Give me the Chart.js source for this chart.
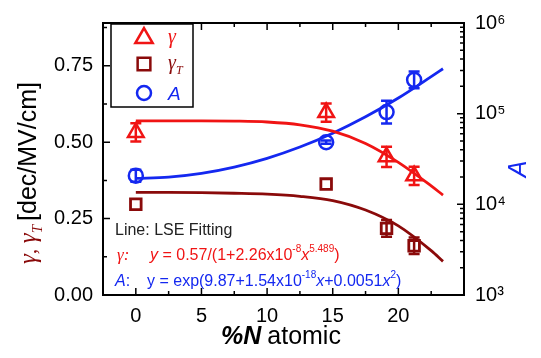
<!DOCTYPE html>
<html>
<head>
<meta charset="utf-8">
<script src="https://cdn.jsdelivr.net/npm/chart.js@4.4.1/dist/chart.umd.min.js"></script>
<style>
html,body{margin:0;padding:0;background:#fff;}
canvas{display:block;}
</style>
</head>
<body>
<canvas id="plot" width="541" height="358"></canvas>
<script>
/* measured points */
var nitrogen = [0, 14.5, 19.1, 21.2]
var gamma = [0.532, 0.597, 0.452, 0.390]
var gammaErr = [0.03, 0.03, 0.033, 0.03]
var gammaT = [0.297, 0.363, 0.218, 0.161]
var gammaTErr = [0, 0, 0.027, 0.027]
var aVals = [20700, 48400, 104000, 236000]
var aLow = [17800, 46500, 77700, 191000]
var aHigh = [24000, 50500, 139000, 291000]

/* LSE fitting lines */
var fitX = [0, 2.5, 5, 7.5, 10, 12.5, 15, 17.5, 20, 22.5, 23.4]
var gammaFit = [0.570, 0.570, 0.570, 0.569, 0.566, 0.557, 0.536, 0.496, 0.434, 0.357, 0.327]
var gammaTFit = [0.336, 0.336, 0.335, 0.333, 0.330, 0.323, 0.309, 0.278, 0.226, 0.145, 0.110]
var aFit = [19300, 20000, 22000, 25800, 32200, 42900, 60900, 92300, 148800, 256000, 313000]

/* axes */
var xTicks = [0, 5, 10, 15, 20]
var yTicks = [0, 0.25, 0.5, 0.75]
var aTicks = [1e3, 1e4, 1e5, 1e6]
var aTickLabels = {1000:'10³', 10000:'10⁴', 100000:'10⁵', 1000000:'10⁶'}

var RED = '#f01414'
var DARK = '#8a0a0a'
var BLUE = '#1428f0'
var SANS = '"Liberation Sans", Arial, sans-serif'
var SERIF = '"Liberation Serif", "Times New Roman", serif'

function pts(xs, ys){
    return xs.map(function(v, i){ return {x:v, y:ys[i]} })
}

function marker(ctx, style, x, y, r, color){
    ctx.beginPath()
    if(style == 'triangle'){
        for(var k = 0; k < 3; k++){
            var ang = k*2*Math.PI/3
            ctx.lineTo(x + Math.sin(ang)*r, y - Math.cos(ang)*r)
        }
        ctx.closePath()
    }else if(style == 'rect'){
        var s = r*Math.SQRT1_2
        ctx.rect(x - s, y - s, 2*s, 2*s)
    }else{
        ctx.arc(x, y, r, 0, Math.PI*2)
    }
    ctx.lineWidth = 2.5
    ctx.strokeStyle = color
    ctx.stroke()
}

function errBar(ctx, px, lo, hi, color){
    if(Math.abs(lo - hi) < 2) return
    ctx.strokeStyle = color
    ctx.lineWidth = 2.5
    ctx.beginPath()
    ctx.moveTo(px, lo); ctx.lineTo(px, hi)
    ctx.moveTo(px - 5.5, lo); ctx.lineTo(px + 5.5, lo)
    ctx.moveTo(px - 5.5, hi); ctx.lineTo(px + 5.5, hi)
    ctx.stroke()
}

// draws text pieces one after another (super/subscripts, mixed fonts)
function rich(ctx, x, y, parts){
    ctx.textAlign = 'left'
    ctx.textBaseline = 'alphabetic'
    parts.forEach(function(p){
        ctx.font = p.f
        ctx.fillStyle = p.c
        ctx.fillText(p.t, x, y + (p.dy || 0))
        x += ctx.measureText(p.t).width + (p.gap || 0)
    })
    return x
}

var extras = {
    id:'extras',
    afterDatasetsDraw:function(chart){
        var ctx = chart.ctx
        var sx = chart.scales.x, sy = chart.scales.y, sa = chart.scales.a
        ctx.save()
        for(var i = 0; i < nitrogen.length; i++){
            var px = sx.getPixelForValue(nitrogen[i])
            errBar(ctx, px, sy.getPixelForValue(gamma[i] - gammaErr[i]), sy.getPixelForValue(gamma[i] + gammaErr[i]), RED)
            errBar(ctx, px, sy.getPixelForValue(gammaT[i] - gammaTErr[i]), sy.getPixelForValue(gammaT[i] + gammaTErr[i]), DARK)
            errBar(ctx, px, sa.getPixelForValue(aLow[i]), sa.getPixelForValue(aHigh[i]), BLUE)
        }
        ctx.restore()
    },
    afterDraw:function(chart){
        var ctx = chart.ctx, area = chart.chartArea
        var sx = chart.scales.x, sy = chart.scales.y, sa = chart.scales.a
        ctx.save()

        // frame
        ctx.strokeStyle = '#000'
        ctx.lineWidth = 2
        ctx.strokeRect(area.left, area.top, area.right - area.left, area.bottom - area.top)

        // inward ticks
        ctx.lineWidth = 1.5
        ctx.beginPath()
        for(var v = 0; v <= 22.5; v += 2.5){
            var p = sx.getPixelForValue(v)
            var len = (v % 5 == 0) ? 7 : 4
            ctx.moveTo(p, area.bottom); ctx.lineTo(p, area.bottom - len)
            ctx.moveTo(p, area.top); ctx.lineTo(p, area.top + len)
        }
        for(var w = 0.125; w < 0.9; w += 0.125){
            var q = sy.getPixelForValue(w)
            var l2 = (Math.round(w*8) % 2 == 0) ? 7 : 4
            ctx.moveTo(area.left, q); ctx.lineTo(area.left + l2, q)
        }
        for(var dec = 1e3; dec < 1e6; dec *= 10){
            for(var m = 1; m < 10; m++){
                var r = sa.getPixelForValue(dec*m)
                var l3 = (m == 1) ? 7 : 4
                ctx.moveTo(area.right, r); ctx.lineTo(area.right - l3, r)
            }
        }
        ctx.stroke()

        // legend box
        ctx.fillStyle = '#fff'
        ctx.fillRect(111, 24, 82, 83)
        ctx.lineWidth = 1.5
        ctx.strokeStyle = '#000'
        ctx.strokeRect(111, 24, 82, 83)
        marker(ctx, 'triangle', 144, 38, 10, RED)
        marker(ctx, 'rect', 144, 64, 9, DARK)
        marker(ctx, 'circle', 144, 93, 7, BLUE)
        rich(ctx, 168, 43, [{t:'γ', f:'italic 20px ' + SERIF, c:RED}])
        rich(ctx, 168, 69, [{t:'γ', f:'italic 20px ' + SERIF, c:DARK}, {t:'T', f:'italic 12px ' + SERIF, c:DARK, dy:5}])
        rich(ctx, 168, 100, [{t:'A', f:'italic 19px ' + SANS, c:BLUE}])

        // fitting notes
        rich(ctx, 115, 235, [{t:'Line: LSE Fitting', f:'16px ' + SANS, c:'#222'}])
        rich(ctx, 117, 260, [{t:'γ:', f:'italic 17px ' + SERIF, c:RED}])
        rich(ctx, 150, 260, [
            {t:'y', f:'italic 16px ' + SANS, c:RED},
            {t:' = 0.57/(1+2.26x10', f:'16px ' + SANS, c:RED},
            {t:'-8', f:'10px ' + SANS, c:RED, dy:-8},
            {t:'x', f:'italic 16px ' + SANS, c:RED},
            {t:'5.489', f:'10px ' + SANS, c:RED, dy:-8},
            {t:')', f:'16px ' + SANS, c:RED}
        ])
        rich(ctx, 115, 286, [{t:'A', f:'italic 16px ' + SANS, c:BLUE}, {t:':', f:'16px ' + SANS, c:BLUE}])
        rich(ctx, 147, 286, [
            {t:'y = exp(9.87+1.54x10', f:'16px ' + SANS, c:BLUE},
            {t:'-18', f:'10px ' + SANS, c:BLUE, dy:-8},
            {t:'x', f:'italic 16px ' + SANS, c:BLUE},
            {t:'+0.0051', f:'16px ' + SANS, c:BLUE},
            {t:'x', f:'italic 16px ' + SANS, c:BLUE},
            {t:'2', f:'10px ' + SANS, c:BLUE, dy:-8},
            {t:')', f:'16px ' + SANS, c:BLUE}
        ])

        // x title
        rich(ctx, 221, 344, [
            {t:'%N', f:'italic bold 25px ' + SANS, c:'#000', gap:6},
            {t:'atomic', f:'25px ' + SANS, c:'#000'}
        ])

        // left y title
        ctx.save()
        ctx.translate(36, 264)
        ctx.rotate(-Math.PI/2)
        rich(ctx, 0, 0, [
            {t:'γ', f:'italic 25px ' + SERIF, c:DARK},
            {t:', ', f:'22px ' + SERIF, c:DARK},
            {t:'γ', f:'italic 25px ' + SERIF, c:DARK},
            {t:'T', f:'italic 15px ' + SERIF, c:DARK, dy:6, gap:4},
            {t:'[dec/MV/cm]', f:'25px ' + SANS, c:'#000'}
        ])
        ctx.restore()

        // right y title
        ctx.save()
        ctx.translate(526, 169)
        ctx.rotate(-Math.PI/2)
        ctx.textAlign = 'center'
        ctx.font = 'italic 25px ' + SANS
        ctx.fillStyle = BLUE
        ctx.fillText('A', 0, 0)
        ctx.restore()

        ctx.restore()
    }
}

var ctx = document.getElementById('plot').getContext('2d')
var chart = new Chart(ctx, {
    type:'scatter',
    plugins:[extras],
    data:{
        datasets:[
            {label:'gammaFit', data:pts(fitX, gammaFit), showLine:true, borderColor:RED, borderWidth:2.8, pointRadius:0, cubicInterpolationMode:'monotone', yAxisID:'y'},
            {label:'gammaTFit', data:pts(fitX, gammaTFit), showLine:true, borderColor:DARK, borderWidth:2.8, pointRadius:0, cubicInterpolationMode:'monotone', yAxisID:'y'},
            {label:'aFit', data:pts(fitX, aFit), showLine:true, borderColor:BLUE, borderWidth:2.8, pointRadius:0, cubicInterpolationMode:'monotone', yAxisID:'a'},
            {label:'γ', data:pts(nitrogen, gamma), pointStyle:'triangle', pointRadius:9, borderColor:RED, backgroundColor:'rgba(0,0,0,0)', pointBorderWidth:2.5, yAxisID:'y'},
            {label:'γT', data:pts(nitrogen, gammaT), pointStyle:'rect', pointRadius:7.5, borderColor:DARK, backgroundColor:'rgba(0,0,0,0)', pointBorderWidth:2.8, yAxisID:'y'},
            {label:'A', data:pts(nitrogen, aVals), pointStyle:'circle', pointRadius:7, borderColor:BLUE, backgroundColor:'rgba(0,0,0,0)', pointBorderWidth:2.5, yAxisID:'a'}
        ]
    },
    options:{
        responsive:false,
        animation:false,
        devicePixelRatio:1,
        layout:{padding:{top:19, left:0, right:0, bottom:0}},
        plugins:{
            legend:{display:false},
            tooltip:{enabled:false}
        },
        scales:{
            x:{
                type:'linear', min:-2.5, max:25,
                grid:{display:false, drawTicks:false},
                border:{display:false},
                afterBuildTicks:function(s){ s.ticks = xTicks.map(function(v){ return {value:v} }) },
                afterFit:function(s){ s.height = 63 },
                ticks:{color:'#000', font:{family:SANS, size:20}, padding:9}
            },
            y:{
                type:'linear', position:'left', min:0, max:0.89,
                grid:{display:false, drawTicks:false},
                border:{display:false},
                afterBuildTicks:function(s){ s.ticks = yTicks.map(function(v){ return {value:v} }) },
                afterFit:function(s){ s.width = 103 },
                ticks:{color:'#000', font:{family:SANS, size:20}, padding:10, callback:function(v){ return v.toFixed(2) }}
            },
            a:{
                type:'logarithmic', position:'right', min:1e3, max:1e6,
                grid:{display:false, drawTicks:false},
                border:{display:false},
                afterBuildTicks:function(s){ s.ticks = aTicks.map(function(v){ return {value:v} }) },
                afterFit:function(s){ s.width = 77 },
                ticks:{color:'#000', font:{family:SANS, size:20}, padding:11, callback:function(v){ return aTickLabels[v] }}
            }
        }
    }
})
</script>
</body>
</html>
